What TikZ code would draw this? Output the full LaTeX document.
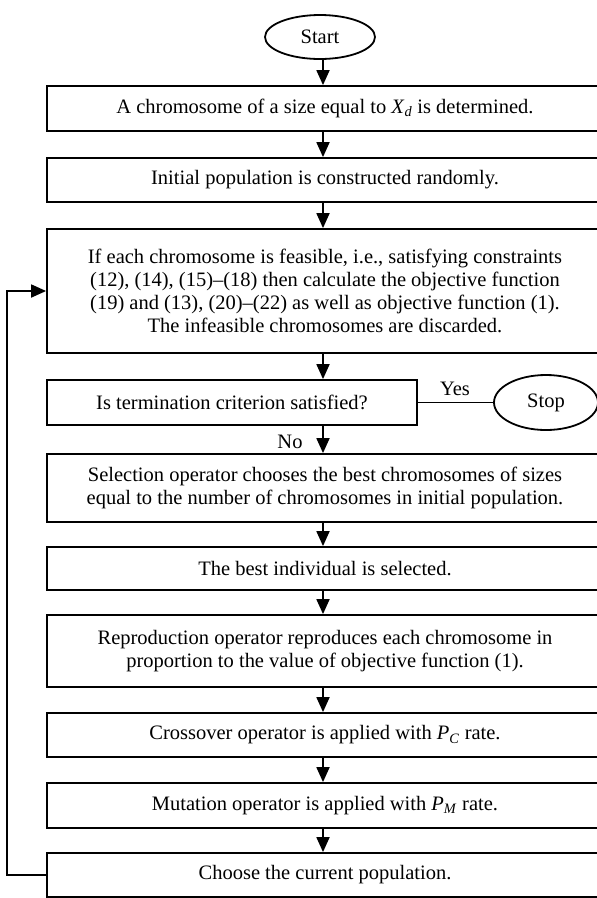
\documentclass[tikz,border=0pt]{standalone}
\usepackage{fontspec}
\setmainfont{Liberation Serif}
\usetikzlibrary{arrows.meta,shapes.geometric}
\begin{document}
\begin{tikzpicture}[x=1pt,y=-1pt,
  box/.style={draw,line width=1.8pt,rectangle,inner sep=0pt,
    font=\fontsize{20.5}{23}\selectfont,align=center},
  term/.style={draw,ellipse,line width=1.8pt,inner sep=0pt,
    font=\fontsize{20.5}{23}\selectfont},
  lbl/.style={inner sep=0pt,font=\fontsize{20.5}{23}\selectfont},
  arr/.style={line width=1.8pt,-{Triangle[length=15pt,width=13pt]}},
  ln/.style={line width=1.8pt}]
\useasboundingbox (0,0) rectangle (597,898);
\coordinate (ax) at (323,0);
\node[term,minimum width=110pt,minimum height=44pt] (st) at (320,37) {Start};
\node[box,minimum width=556pt,minimum height=45pt] (b1) at (325,108.5)
  {A chromosome of a size equal to \textit{X}\textsubscript{\textit{d}} is determined.};
\node[box,minimum width=556pt,minimum height=44pt] (b2) at (325,180)
  {Initial population is constructed randomly.};
\node[box,minimum width=556pt,minimum height=124pt] (b3) at (325,291)
  {If each chromosome is feasible, i.e., satisfying constraints\\
   (12), (14), (15)--(18) then calculate the objective function\\
   (19) and (13), (20)--(22) as well as objective function (1).\\
   The infeasible chromosomes are discarded.};
\node[box,minimum width=370pt,minimum height=45pt] (b4) at (232,402.5)
  {Is termination criterion satisfied?};
\node[term,minimum width=104pt,minimum height=55pt] (stop) at (546,402.5) {Stop};
\node[box,minimum width=556pt,minimum height=68pt] (b5) at (325,488)
  {Selection operator chooses the best chromosomes of sizes\\
   equal to the number of chromosomes in initial population.};
\node[box,minimum width=556pt,minimum height=43pt] (b6) at (325,568.5)
  {The best individual is selected.};
\node[box,minimum width=556pt,minimum height=72pt] (b7) at (325,651)
  {Reproduction operator reproduces each chromosome in\\
   proportion to the value of objective function (1).};
\node[box,minimum width=556pt,minimum height=44pt] (b8) at (325,735)
  {Crossover operator is applied with \textit{P}\textsubscript{\textit{C}} rate.};
\node[box,minimum width=556pt,minimum height=45pt] (b9) at (325,805.5)
  {Mutation operator is applied with \textit{P}\textsubscript{\textit{M}} rate.};
\node[box,minimum width=556pt,minimum height=44pt] (b10) at (325,875)
  {Choose the current population.};
\node[lbl] (yes) at (455,389) {Yes};
\node[lbl] (no) at (290,442) {No};
\draw[arr] (st.south -| ax) -- (b1.north -| ax);
\draw[arr] (b1.south -| ax) -- (b2.north -| ax);
\draw[arr] (b2.south -| ax) -- (b3.north -| ax);
\draw[arr] (b3.south -| ax) -- (b4.north -| ax);
\draw[arr] (b4.south -| ax) -- (b5.north -| ax);
\draw[arr] (b5.south -| ax) -- (b6.north -| ax);
\draw[arr] (b6.south -| ax) -- (b7.north -| ax);
\draw[arr] (b7.south -| ax) -- (b8.north -| ax);
\draw[arr] (b8.south -| ax) -- (b9.north -| ax);
\draw[arr] (b9.south -| ax) -- (b10.north -| ax);
\draw[ln] (b4.east) -- (stop.west);
\draw[arr] (b10.west) -- ++(-39,0) |- (b3.west);
\end{tikzpicture}
\end{document}
